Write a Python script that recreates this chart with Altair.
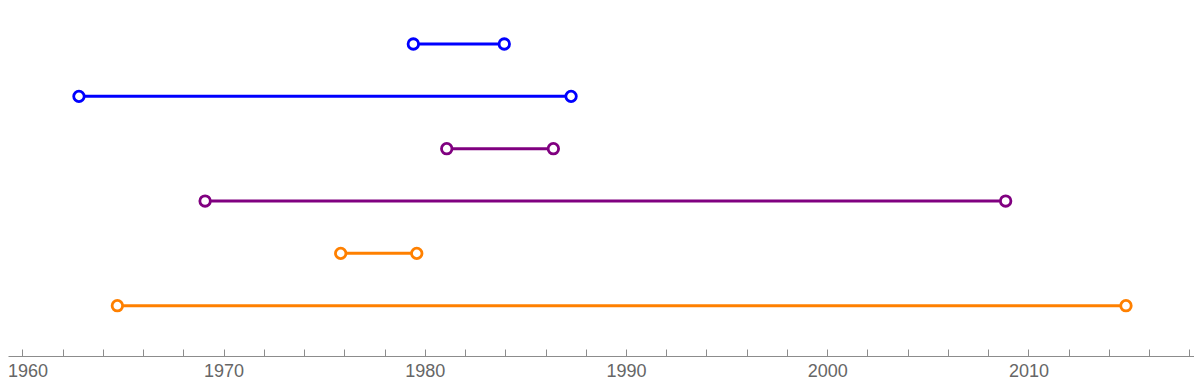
import altair as alt
import pandas as pd

rows = [6, 5, 4, 3, 2, 1]
starts = [1979.43, 1962.81, 1981.09, 1969.08, 1975.82, 1964.72]
ends = [1983.95, 1987.27, 1986.39, 2008.87, 1979.60, 2014.85]
groups = ["A", "A", "B", "B", "C", "C"]
group_names = ["A", "B", "C"]
colors = ["#0000FF", "#800080", "#FF8000"]
tick_values = list(range(1960, 2019, 2))

df = pd.DataFrame({"row": rows, "start": starts, "end": ends, "group": groups})

xscale = alt.Scale(domain=[1959.284, 2018.231], nice=False, zero=False)
yscale = alt.Scale(domain=[0.039, 6.688], nice=False, zero=False)
cscale = alt.Scale(domain=group_names, range=colors)

axis_gray = "#8c8c8c"

rules = alt.Chart(df).mark_rule(strokeWidth=3).encode(
    x=alt.X(
        "start:Q",
        scale=xscale,
        axis=alt.Axis(
            values=tick_values,
            labelExpr="datum.value % 10 === 0 ? '' + datum.value : ''",
            ticks=False,
            tickSize=0,
            grid=False,
            domainColor=axis_gray,
            domainWidth=1,
            labelColor="#666666",
            labelFontSize=18,
            labelFont="Liberation Sans",
            labelPadding=6,
            labelOverlap=False,
            labelOffset={"condition": {"test": "datum.value === 1960", "value": 5}, "value": 0},
            title=None,
        ),
    ),
    x2="end:Q",
    y=alt.Y("row:Q", scale=yscale, axis=None),
    color=alt.Color("group:N", scale=cscale, legend=None),
)

points = (
    alt.Chart(df)
    .transform_fold(["start", "end"], as_=["which", "year"])
    .mark_point(shape="circle", filled=True, fill="white", size=110, strokeWidth=2.8, opacity=1)
    .encode(
        x=alt.X(
            "year:Q",
            scale=xscale,
            axis=alt.Axis(
                orient="top",
                offset=-348,
                values=tick_values,
                labels=False,
                domain=False,
                grid=False,
                ticks=True,
                tickSize=7,
                tickColor=axis_gray,
                tickWidth=1,
                title=None,
            ),
        ),
        y=alt.Y("row:Q", scale=yscale, axis=None),
        stroke=alt.Stroke("group:N", scale=cscale, legend=None),
    )
)

chart = (
    alt.layer(rules, points)
    .resolve_axis(x="independent")
    .properties(
        width=1186,
        height=348,
        autosize=alt.AutoSizeParams(type="none"),
        padding={"left": 0, "top": 0, "right": 0, "bottom": 25},
    )
    .configure_view(strokeWidth=0)
)

chart.save("out.html", embed_options={"renderer": "svg", "actions": False})
